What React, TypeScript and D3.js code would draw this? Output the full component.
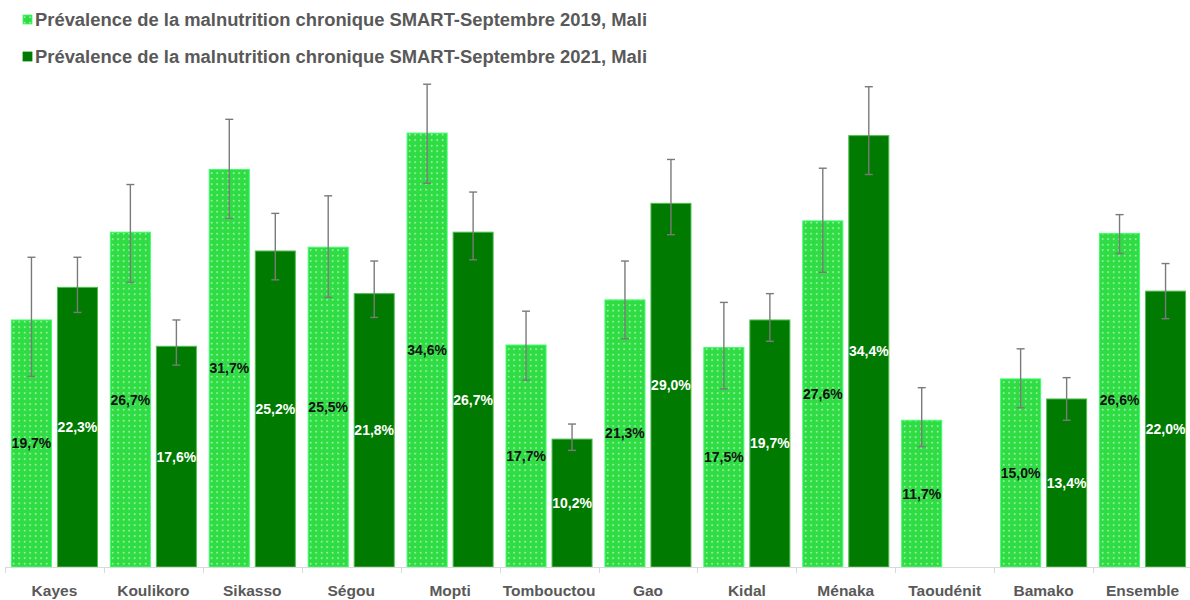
import React from "react";
import * as d3 from "d3";

const categories = ["Kayes", "Koulikoro", "Sikasso", "Ségou", "Mopti", "Tombouctou", "Gao", "Kidal", "Ménaka", "Taoudénit", "Bamako", "Ensemble"];
const values2019: (number | null)[] = [19.7, 26.7, 31.7, 25.5, 34.6, 17.7, 21.3, 17.5, 27.6, 11.7, 15.0, 26.6];
const low2019: (number | null)[] = [15.2, 22.7, 27.8, 21.5, 30.6, 14.9, 18.2, 14.2, 23.5, 9.6, 12.7, 25.0];
const high2019: (number | null)[] = [24.7, 30.5, 35.7, 29.6, 38.5, 20.4, 24.4, 21.1, 31.8, 14.3, 17.4, 28.1];
const values2021: (number | null)[] = [22.3, 17.6, 25.2, 21.8, 26.7, 10.2, 29.0, 19.7, 34.4, null, 13.4, 22.0];
const low2021: (number | null)[] = [20.3, 16.1, 22.9, 19.9, 24.5, 9.3, 26.5, 18.0, 31.3, null, 11.7, 19.8];
const high2021: (number | null)[] = [24.7, 19.7, 28.2, 24.4, 29.9, 11.4, 32.5, 21.8, 38.3, null, 15.1, 24.2];
const legendLabels = [
  "Prévalence de la malnutrition chronique SMART-Septembre 2019, Mali",
  "Prévalence de la malnutrition chronique SMART-Septembre 2021, Mali",
];

const W = 1190;
const H = 600;
const plotLeft = 5;
const plotRight = 1192;
const baseY = 567;

export default function App() {
  const x = d3.scaleBand<string>().domain(categories).range([plotLeft, plotRight]).paddingInner(0).paddingOuter(0);
  const sub = d3.scaleBand<string>().domain(["2019", "2021"]).range([0, x.bandwidth()]).paddingInner(0.13).paddingOuter(0.14);
  const y = d3.scaleLinear().domain([0, 40]).range([baseY, baseY - 40 * 12.54]);
  const fmt = (v: number) => v.toFixed(1).replace(".", ",") + "%";
  const labelFont = "'Liberation Sans', Arial, sans-serif";

  const series = [
    { key: "2019", vals: values2019, lo: low2019, hi: high2019, fill: "url(#dots)", stroke: "#3cff6a", text: "#111" },
    { key: "2021", vals: values2021, lo: low2021, hi: high2021, fill: "#007a00", stroke: "#4fbf4f", text: "#fff" },
  ];

  return (
    <div style={{ position: "absolute", left: 0, top: 0 }}>
      <svg width={W} height={H} style={{ display: "block", background: "#fff" }}>
        <defs>
          <pattern id="dots" width="5.5" height="5.5" patternUnits="userSpaceOnUse">
            <rect width="5.5" height="5.5" fill="#2fdc44" />
            <rect x="2" y="2" width="1.3" height="1.3" fill="#f0fff0" />
          </pattern>
        </defs>
        {/* legend */}
        {legendLabels.map((l, i) => (
          <g key={l} transform={`translate(0, ${20 + i * 37})`}>
            <rect x={23} y={-5} width={9} height={9} fill={i === 0 ? "url(#dots)" : "#007a00"} stroke={i === 0 ? "#3cff6a" : "#007a00"} strokeWidth={0.8} />
            <text x={35} y={6} fontFamily={labelFont} fontWeight="bold" fontSize={17.5} fill="#595959" textLength={612} lengthAdjust="spacingAndGlyphs">{l}</text>
          </g>
        ))}
        {/* bars */}
        {series.map((s) =>
          categories.map((c, i) => {
            const v = s.vals[i];
            if (v == null) return null;
            const bx = (x(c) as number) + (sub(s.key) as number);
            const bw = sub.bandwidth();
            const top = y(v);
            return (
              <g key={s.key + c}>
                <rect x={bx} y={top} width={bw} height={baseY - top} fill={s.fill} stroke={s.stroke} strokeWidth={1} />
              </g>
            );
          })
        )}
        {/* axis */}
        <line x1={plotLeft} x2={W} y1={baseY + 0.5} y2={baseY + 0.5} stroke="#d9d9d9" strokeWidth={1} />
        {categories.map((c) => (
          <line key={"t" + c} x1={Math.round(x(c) as number) + 0.5} x2={Math.round(x(c) as number) + 0.5} y1={baseY} y2={baseY + 6} stroke="#d9d9d9" />
        ))}
        {categories.map((c) => (
          <text key={"l" + c} x={(x(c) as number) + x.bandwidth() / 2} y={596} textAnchor="middle" fontFamily={labelFont} fontWeight="bold" fontSize={15.5} fill="#595959">{c}</text>
        ))}
        {/* error bars */}
        {series.map((s) =>
          categories.map((c, i) => {
            const lo = s.lo[i];
            const hi = s.hi[i];
            if (lo == null || hi == null) return null;
            const cx = (x(c) as number) + (sub(s.key) as number) + sub.bandwidth() / 2;
            return (
              <g key={"e" + s.key + c} stroke="#7a7a7a" strokeWidth={1.4}>
                <line x1={cx} x2={cx} y1={y(hi)} y2={y(lo)} />
                <line x1={cx - 4} x2={cx + 4} y1={y(hi)} y2={y(hi)} />
                <line x1={cx - 4} x2={cx + 4} y1={y(lo)} y2={y(lo)} />
              </g>
            );
          })
        )}
        {/* value labels */}
        {series.map((s) =>
          categories.map((c, i) => {
            const v = s.vals[i];
            if (v == null) return null;
            const cx = (x(c) as number) + (sub(s.key) as number) + sub.bandwidth() / 2;
            const my = (y(v) + baseY) / 2;
            return (
              <text key={"v" + s.key + c} x={cx} y={my + 5} textAnchor="middle" fontFamily={labelFont} fontWeight="bold" fontSize={14} fill={s.text}>{fmt(v)}</text>
            );
          })
        )}
      </svg>
    </div>
  );
}
